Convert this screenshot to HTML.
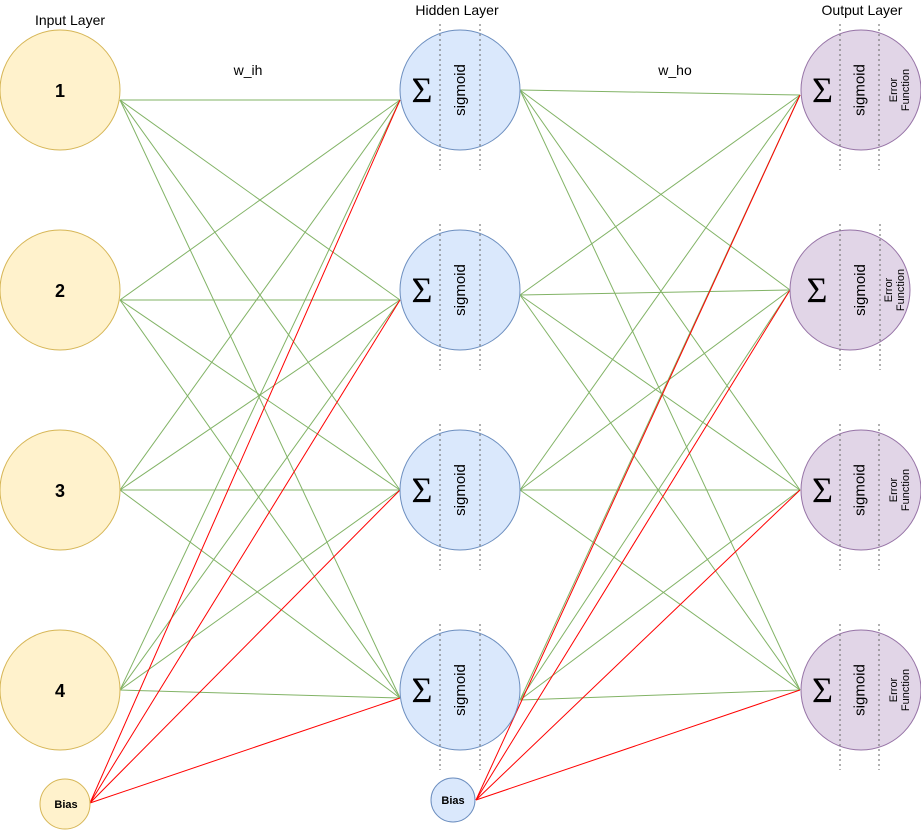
<!DOCTYPE html>
<html><head><meta charset="utf-8"><style>
html,body{margin:0;padding:0;background:#fff;}
svg{display:block;font-family:"Liberation Sans",sans-serif;}
</style></head><body>
<svg id="s" width="921" height="831" viewBox="0 0 921 831" xmlns="http://www.w3.org/2000/svg">
<g id="lines" stroke-width="1" fill="none"></g>
<g id="nodes"></g>
<text x="70" y="25" font-size="14" text-anchor="middle">Input Layer</text>
<text x="457" y="15" font-size="14" text-anchor="middle">Hidden Layer</text>
<text x="862" y="15" font-size="14" text-anchor="middle">Output Layer</text>
<text x="248" y="75" font-size="14" text-anchor="middle">w_ih</text>
<text x="675" y="75" font-size="14" text-anchor="middle">w_ho</text>
</svg>
<script>
var NS="http://www.w3.org/2000/svg";
function el(p,t,a,txt){var e=document.createElementNS(NS,t);for(var k in a)e.setAttribute(k,a[k]);if(txt)e.textContent=txt;document.getElementById(p).appendChild(e);return e;}
var G="#82b366",R="#ff0000";
var inSrc=[[120,100],[120,300],[120,490],[120,690]];
var hIn=[[400,100],[400,300],[400,490],[400,698]];
var hOut=[[520,90],[520,295],[520,490],[520,700]];
var oIn=[[800,95],[790,290],[800,490],[800,690]];
inSrc.forEach(function(a){hIn.forEach(function(b){el("lines","line",{x1:a[0],y1:a[1],x2:b[0],y2:b[1],stroke:G});});});
hOut.forEach(function(a){oIn.forEach(function(b){el("lines","line",{x1:a[0],y1:a[1],x2:b[0],y2:b[1],stroke:G});});});
hIn.forEach(function(b){el("lines","line",{x1:90,y1:803,x2:b[0],y2:b[1],stroke:R});});
oIn.forEach(function(b){el("lines","line",{x1:476,y1:800,x2:b[0],y2:b[1],stroke:R});});
// input nodes
[90,290,490,690].forEach(function(y,i){
 el("nodes","circle",{cx:60,cy:y,r:60,fill:"#fff2cc",stroke:"#d6b656"});
 el("nodes","text",{x:60,y:y+7,"font-size":18,"font-weight":"bold","text-anchor":"middle"},String(i+1));
});
el("nodes","circle",{cx:65,cy:804,r:25,fill:"#fff2cc",stroke:"#d6b656"});
el("nodes","text",{x:66,y:808,"font-size":11,"font-weight":"bold","text-anchor":"middle"},"Bias");
el("nodes","circle",{cx:453,cy:800,r:22,fill:"#dae8fc",stroke:"#6c8ebf"});
el("nodes","text",{x:453,y:804,"font-size":11,"font-weight":"bold","text-anchor":"middle"},"Bias");
function neuron(cx,cy,fill,stroke,d1,d2,err){
 el("nodes","circle",{cx:cx,cy:cy,r:60,fill:fill,stroke:stroke});
 el("nodes","line",{x1:d1,y1:cy-66,x2:d1,y2:cy+80,stroke:"#666","stroke-dasharray":"2 3"});
 el("nodes","line",{x1:d2,y1:cy-66,x2:d2,y2:cy+80,stroke:"#666","stroke-dasharray":"2 3"});
 el("nodes","text",{x:(cx-60+d1)/2+2,y:cy+12,"font-size":36,"font-family":"Liberation Serif","text-anchor":"middle"},"\u03A3");
 var t=el("nodes","text",{x:0,y:0,"font-size":15,"text-anchor":"middle",transform:"translate("+((d1+d2)/2+5)+","+cy+") rotate(-90)"},"sigmoid");
 if(err){
  var x=(d2+cx+60)/2;
  el("nodes","text",{x:0,y:0,"font-size":11,"text-anchor":"middle",transform:"translate("+(x-3)+","+cy+") rotate(-90)"},"Error");
  el("nodes","text",{x:0,y:0,"font-size":11,"text-anchor":"middle",transform:"translate("+(x+9)+","+cy+") rotate(-90)"},"Function");
 }
}
[90,290,490,690].forEach(function(y){neuron(460,y,"#dae8fc","#6c8ebf",440,480,false);});
neuron(861,90,"#e1d5e7","#9673a6",840,879,true);
neuron(850,290,"#e1d5e7","#9673a6",840,880,true);
neuron(861,490,"#e1d5e7","#9673a6",840,879,true);
neuron(861,690,"#e1d5e7","#9673a6",840,879,true);
</script>
</body></html>
